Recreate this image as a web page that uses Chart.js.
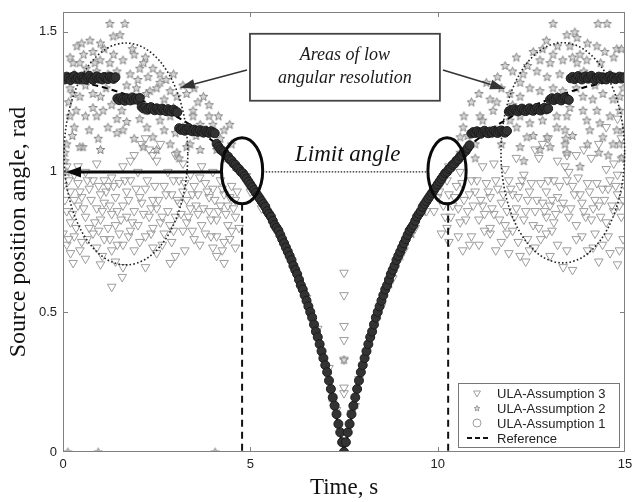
<!DOCTYPE html>
<html>
<head>
<meta charset="utf-8">
<script src="https://cdn.jsdelivr.net/npm/chart.js@4.4.1/dist/chart.umd.min.js"></script>
<style>
  html, body { margin: 0; padding: 0; background: #fff; }
  #wrap { width: 632px; height: 502px; }
</style>
</head>
<body>
<div id="wrap"><canvas id="angleChart" width="632" height="502"></canvas></div>
<script>
// axis ticks
const timeTicks = [0, 5, 10, 15];
const angleTicks = [0, 0.5, 1, 1.5];
const angleMax = 1.5708;

// true source angle (rad) vs time (s)
const refT = [0, 0.5, 1, 1.5, 2, 2.5, 3, 3.5, 4, 4.25, 4.5, 4.75, 5, 5.25, 5.5, 5.75, 6, 6.25, 6.5, 6.75, 7, 7.25, 7.5,
  7.75, 8, 8.25, 8.5, 8.75, 9, 9.25, 9.5, 9.75, 10, 10.25, 10.5, 10.75, 11, 11.5, 12, 12.5, 13, 13.5, 14, 14.5, 15];
const refA = [1.335, 1.32, 1.305, 1.285, 1.26, 1.235, 1.2, 1.16, 1.11, 1.08, 1.045, 1.005, 0.955, 0.905, 0.85, 0.785, 0.715, 0.63, 0.54, 0.43, 0.31, 0.15, 0,
  0.15, 0.31, 0.43, 0.54, 0.63, 0.715, 0.785, 0.85, 0.905, 0.955, 1.005, 1.045, 1.08, 1.11, 1.16, 1.2, 1.235, 1.26, 1.285, 1.305, 1.32, 1.335];

// assumption 1 estimate, one value every 0.05 s from 0 to 15 s
const sampleStep = 0.05;
const est1A = [
  // 0 .. 1.40
  1.335, 1.33, 1.34, 1.335, 1.328, 1.338, 1.342, 1.332, 1.336, 1.33, 1.34, 1.335, 1.33, 1.338, 1.343,
  1.334, 1.329, 1.337, 1.341, 1.333, 1.336, 1.33, 1.339, 1.335, 1.331, 1.34, 1.336, 1.332, 1.338,
  // 1.45 .. 2.05
  1.262, 1.256, 1.265, 1.259, 1.254, 1.263, 1.26, 1.255, 1.266, 1.258, 1.262, 1.257, 1.264,
  // 2.10 .. 3.05
  1.232, 1.226, 1.23, 1.222, 1.228, 1.231, 1.224, 1.22, 1.227, 1.223, 1.219, 1.226, 1.221, 1.217,
  1.224, 1.218, 1.215, 1.222, 1.216, 1.213,
  // 3.10 .. 4.05
  1.156, 1.15, 1.154, 1.147, 1.152, 1.157, 1.148, 1.145, 1.151, 1.146, 1.143, 1.149, 1.144, 1.14,
  1.147, 1.142, 1.139, 1.145, 1.141, 1.138,
  // 4.10 .. 7.50
  1.1, 1.09, 1.08, 1.075, 1.07, 1.06, 1.055, 1.045, 1.04, 1.03, 1.025, 1.015, 1.01, 1.0, 0.995,
  0.985, 0.975, 0.965, 0.955, 0.945, 0.935, 0.925, 0.915, 0.905, 0.895, 0.885, 0.875, 0.86, 0.85, 0.84,
  0.825, 0.81, 0.8, 0.79, 0.775, 0.76, 0.745, 0.73, 0.715, 0.7, 0.685, 0.665, 0.65, 0.635, 0.615,
  0.595, 0.58, 0.56, 0.54, 0.52, 0.5, 0.48, 0.455, 0.43, 0.41, 0.385, 0.36, 0.335, 0.31, 0.285,
  0.255, 0.225, 0.195, 0.165, 0.135, 0.1, 0.07, 0.035, 0,
  // 7.55 .. 10.85
  0.035, 0.07, 0.1, 0.135, 0.165, 0.195, 0.225, 0.255, 0.285, 0.31, 0.335, 0.36, 0.385, 0.41, 0.43,
  0.455, 0.48, 0.5, 0.52, 0.54, 0.56, 0.58, 0.595, 0.615, 0.635, 0.65, 0.665, 0.685, 0.7, 0.715,
  0.73, 0.745, 0.76, 0.775, 0.79, 0.8, 0.81, 0.825, 0.84, 0.85, 0.86, 0.875, 0.885, 0.895, 0.905,
  0.915, 0.925, 0.935, 0.945, 0.955, 0.965, 0.975, 0.985, 0.995, 1.0, 1.01, 1.015, 1.025, 1.03, 1.04,
  1.045, 1.055, 1.06, 1.07, 1.075, 1.085, 1.095,
  // 10.90 .. 11.85
  1.137, 1.142, 1.139, 1.145, 1.14, 1.136, 1.143, 1.147, 1.141, 1.138, 1.144, 1.14, 1.146, 1.142,
  1.139, 1.145, 1.148, 1.143, 1.14, 1.146,
  // 11.90 .. 12.95
  1.215, 1.221, 1.218, 1.224, 1.219, 1.216, 1.222, 1.226, 1.22, 1.217, 1.223, 1.227, 1.221, 1.218,
  1.224, 1.228, 1.222, 1.219, 1.225, 1.229, 1.223, 1.226,
  // 13.00 .. 13.50
  1.258, 1.263, 1.256, 1.261, 1.265, 1.259, 1.255, 1.262, 1.266, 1.26, 1.257,
  // 13.55 .. 15.00
  1.334, 1.339, 1.331, 1.336, 1.342, 1.335, 1.33, 1.338, 1.341, 1.333, 1.337, 1.343, 1.334, 1.329, 1.336,
  1.34, 1.332, 1.338, 1.335, 1.33, 1.339, 1.342, 1.334, 1.337, 1.331, 1.336, 1.34, 1.333, 1.338, 1.335
];

// assumption 2 estimates [time, angle]
const est2 = [
  [1.25, 1.53], [1.65, 1.53], [1.34, 1.485], [1.52, 1.49],
  [0.37, 1.45], [0.5, 1.46], [0.72, 1.47], [0.8, 1.43], [1.1, 1.44], [1.85, 1.44], [1.9, 1.42],
  [0.19, 1.41], [0.27, 1.39], [0.45, 1.39], [0.99, 1.4], [1.25, 1.39], [0.62, 1.37], [2.2, 1.41],
  [1.44, 1.36], [1.79, 1.35], [2.05, 1.37], [2.27, 1.34], [2.59, 1.35], [0.9, 1.36],
  [2.59, 1.32], [2.32, 1.29], [2.86, 1.29], [3.04, 1.27], [1.96, 1.3], [2.23, 1.28], [3.2, 1.31], [2.7, 1.26],
  [0.19, 1.3], [0.27, 1.28], [0.45, 1.27], [0.8, 1.28], [1.0, 1.27], [0.6, 1.31], [1.15, 1.3],
  [0.8, 1.23], [0.9, 1.2], [1.07, 1.22], [1.44, 1.19], [1.57, 1.22], [1.3, 1.24],
  [1.44, 1.14], [1.6, 1.15], [0.94, 1.12], [0.53, 1.09], [0.45, 1.09],
  [0.19, 1.2], [0.1, 1.1], [0.05, 1.07], [0.05, 1.04], [0.1, 1.0], [0.3, 1.16],
  [2.05, 1.19], [2.24, 1.16], [2.4, 1.125], [2.59, 1.185], [2.86, 1.2], [2.24, 1.22],
  [2.14, 1.09], [2.5, 1.08], [2.86, 1.1], [3.04, 1.07], [3.3, 1.09],
  [3.47, 1.2], [3.66, 1.17], [3.84, 1.15], [4.0, 1.17], [3.47, 1.22], [3.6, 1.25], [3.9, 1.2],
  [3.39, 1.1], [3.66, 1.08], [4.1, 1.08], [4.37, 1.05], [4.2, 1.12], [4.5, 1.1], [3.2, 1.16], [3.0, 1.14],
  [0.3, 1.35], [0.55, 1.42], [0.7, 1.33], [0.85, 1.39], [1.0, 1.46], [1.2, 1.35], [1.35, 1.42], [1.6, 1.4],
  [1.7, 1.31], [2.0, 1.33], [2.15, 1.39], [2.4, 1.37], [2.5, 1.3], [2.75, 1.33], [2.95, 1.35], [3.3, 1.28],
  [3.5, 1.3], [3.75, 1.27], [3.9, 1.24], [4.15, 1.2], [4.3, 1.15], [4.45, 1.17], [0.15, 1.25], [0.35, 1.22],
  [0.6, 1.2], [0.7, 1.15], [1.2, 1.16], [1.7, 1.18], [1.9, 1.12], [2.7, 1.15], [2.95, 1.23], [3.1, 1.05],
  [3.55, 1.13], [1.0, 1.08], [0.25, 1.13],
  [4.4, 1.06], [4.6, 1.02], [4.9, 0.99], [5.1, 0.94], [5.4, 0.88], [5.7, 0.8], [6.0, 0.72], [6.3, 0.61],
  [6.6, 0.5], [6.9, 0.36], [7.2, 0.18], [7.5, 0.33], [7.8, 0.17], [8.1, 0.36], [8.4, 0.49], [8.7, 0.6],
  [9.0, 0.7], [9.3, 0.78], [9.6, 0.86], [9.9, 0.93], [10.1, 0.98], [10.4, 1.03], [10.6, 1.07],
  [13.08, 1.53], [14.28, 1.53], [14.52, 1.53],
  [13.45, 1.49], [13.66, 1.5], [13.72, 1.48],
  [14.0, 1.46], [14.25, 1.45], [14.46, 1.43], [14.78, 1.44], [14.9, 1.44],
  [12.8, 1.44], [13.08, 1.42], [13.53, 1.45], [13.8, 1.42],
  [12.73, 1.4], [13.0, 1.39], [13.34, 1.4], [13.72, 1.39], [13.98, 1.4],
  [12.0, 1.36], [12.28, 1.35], [12.65, 1.36], [12.92, 1.34], [13.26, 1.35],
  [12.2, 1.32], [12.46, 1.3], [12.73, 1.29], [13.08, 1.3], [13.34, 1.29],
  [11.93, 1.28], [12.2, 1.27], [11.58, 1.25], [11.48, 1.22], [11.13, 1.2],
  [13.88, 1.27], [14.14, 1.26], [14.41, 1.28], [14.68, 1.26], [14.86, 1.27],
  [13.53, 1.23], [13.88, 1.22], [14.25, 1.22], [14.6, 1.2], [14.86, 1.22],
  [12.46, 1.175], [12.2, 1.2], [12.8, 1.185], [13.18, 1.2], [13.45, 1.2],
  [13.98, 1.185], [14.33, 1.175], [14.06, 1.15], [14.41, 1.125], [14.78, 1.15], [14.68, 1.1],
  [11.2, 1.185], [10.68, 1.16], [10.6, 1.125],
  [11.93, 1.185], [11.58, 1.15], [12.11, 1.16], [12.38, 1.125],
  [12.92, 1.125], [13.18, 1.16], [12.73, 1.08],
  [13.4, 1.15], [13.42, 1.12], [13.4, 1.1], [13.45, 1.07],
  [10.5, 1.04], [14.9, 1.05], [11.0, 1.1], [10.8, 1.13], [14.95, 1.3], [14.95, 1.15], [11.4, 1.26], [11.7, 1.3],
  [10.7, 1.2], [10.9, 1.25], [11.1, 1.28], [11.3, 1.32], [11.6, 1.34], [11.8, 1.38], [12.1, 1.41], [12.4, 1.38],
  [12.55, 1.43], [12.9, 1.47], [13.2, 1.45], [13.6, 1.41], [13.9, 1.36], [14.1, 1.33], [14.35, 1.39], [14.6, 1.35],
  [14.7, 1.41], [14.2, 1.31], [13.7, 1.3], [13.2, 1.27], [12.6, 1.23], [12.0, 1.24], [11.3, 1.14], [11.7, 1.1],
  [12.2, 1.09], [12.55, 1.13], [13.0, 1.09], [13.6, 1.13], [14.0, 1.1], [14.3, 1.07], [14.55, 1.06], [14.85, 1.1],
  [11.0, 1.05], [13.8, 1.02], [12.3, 1.04],
  [0.13, 0], [0.94, 0], [4.06, 0], [7.5, 0]
];

// assumption 3 estimates [time, angle]
const est3 = [
  [0.1, 1.02], [0.3, 0.99], [0.6, 1.0], [0.9, 1.03], [1.3, 0.98], [1.9, 1.06], [2.1, 1.1], [2.3, 1.08],
  [2.5, 1.04], [2.6, 1.1], [2.8, 1.0], [3.0, 1.06], [3.4, 0.99], [3.7, 1.02], [1.1, 0.97], [2.0, 1.0],
  [0.0, 0.95], [0.2, 0.93], [0.4, 0.96], [0.5, 0.91], [0.7, 0.94], [0.8, 0.97], [1.0, 0.92], [1.2, 0.95],
  [1.4, 0.91], [1.5, 0.96], [1.7, 0.93], [1.8, 0.97], [2.2, 0.94], [2.4, 0.9], [2.7, 0.95], [2.9, 0.92],
  [3.1, 0.97], [3.2, 0.93], [3.3, 0.9], [3.5, 0.95], [3.6, 0.92], [3.8, 0.96], [3.9, 0.91], [4.0, 0.94],
  [4.2, 0.97], [4.3, 0.92], [4.5, 0.95], [4.6, 0.9], [4.4, 0.88], [0.3, 0.9],
  [0.1, 0.86], [0.2, 0.82], [0.4, 0.88], [0.6, 0.84], [0.7, 0.8], [0.9, 0.87], [1.0, 0.83], [1.1, 0.89],
  [1.3, 0.85], [1.4, 0.81], [1.6, 0.88], [1.7, 0.84], [1.9, 0.86], [2.0, 0.81], [2.1, 0.89], [2.3, 0.84],
  [2.5, 0.87], [2.6, 0.82], [2.8, 0.86], [3.0, 0.84], [3.1, 0.89], [3.3, 0.82], [3.4, 0.87], [3.6, 0.85],
  [3.7, 0.81], [3.9, 0.86], [4.1, 0.83], [4.2, 0.88], [4.4, 0.81], [4.6, 0.84], [1.2, 0.8], [2.4, 0.8],
  [0.0, 0.78], [0.1, 0.74], [0.2, 0.71], [0.3, 0.77], [0.5, 0.75], [0.8, 0.78], [0.9, 0.73], [1.1, 0.76],
  [1.3, 0.72], [1.5, 0.78], [1.6, 0.74], [1.8, 0.79], [1.9, 0.72], [2.2, 0.77], [2.4, 0.73], [2.7, 0.78],
  [2.9, 0.75], [3.2, 0.79], [3.5, 0.76], [3.8, 0.78], [4.0, 0.73], [4.1, 0.77], [4.3, 0.75], [4.5, 0.79],
  [4.1, 0.7], [2.5, 0.71],
  [0.27, 0.675], [1.3, 0.59], [1.58, 0.625], [1.6, 0.66], [1.4, 0.68], [2.86, 0.675], [4.3, 0.675],
  [0.6, 0.69], [1.0, 0.67], [2.2, 0.66],
  [0.05, 0.9], [0.15, 0.97], [0.25, 0.85], [0.35, 0.8], [0.45, 0.93], [0.55, 0.87], [0.65, 0.97], [0.75, 0.9],
  [0.85, 0.82], [0.95, 0.95], [1.05, 0.86], [1.15, 0.93], [1.25, 0.88], [1.35, 0.95], [1.45, 0.86], [1.55, 0.83],
  [1.65, 0.97], [1.75, 0.9], [1.85, 0.82], [1.95, 0.94], [2.05, 0.91], [2.15, 0.85], [2.25, 0.97], [2.35, 0.87],
  [2.45, 0.95], [2.55, 0.9], [2.65, 0.84], [2.75, 0.92], [2.85, 0.81], [2.95, 0.97], [3.05, 0.9], [3.15, 0.85],
  [3.25, 0.96], [3.35, 0.84], [3.45, 0.92], [3.55, 0.88], [3.65, 0.98], [3.75, 0.87], [3.85, 0.93], [3.95, 0.83],
  [4.05, 0.9], [4.15, 0.86], [4.25, 0.94], [4.35, 0.85], [4.45, 0.91], [4.55, 0.87], [4.65, 0.93], [4.7, 0.8],
  [0.15, 0.76], [0.45, 0.72], [0.65, 0.76], [0.95, 0.79], [1.25, 0.76], [1.45, 0.74], [1.75, 0.77], [2.05, 0.75],
  [2.35, 0.78], [2.65, 0.74], [2.95, 0.79], [3.25, 0.72], [3.45, 0.79], [3.65, 0.74], [3.95, 0.77], [4.25, 0.72],
  [4.45, 0.76], [4.6, 0.73], [1.05, 0.7], [3.0, 0.7],
  [0.4, 1.02], [1.6, 1.02], [3.2, 1.03], [4.0, 1.0], [2.4, 1.06], [2.2, 1.12], [1.8, 1.04],
  [10.6, 1.0], [11.2, 1.02], [12.6, 1.08], [12.7, 1.05], [12.8, 1.1], [13.4, 1.02], [13.45, 1.06], [13.5, 1.0],
  [13.9, 1.08], [14.1, 1.05], [14.3, 1.1], [14.7, 1.03], [14.8, 0.99], [14.9, 1.12], [11.8, 1.01], [12.3, 0.99],
  [14.5, 1.16], [14.8, 1.19],
  [10.1, 0.96], [10.3, 0.92], [10.5, 0.95], [10.7, 0.9], [10.9, 0.97], [11.0, 0.93], [11.3, 0.96], [11.4, 0.91],
  [11.6, 0.94], [11.9, 0.97], [12.0, 0.92], [12.2, 0.95], [12.4, 0.9], [12.5, 0.96], [12.9, 0.93], [13.1, 0.97],
  [13.2, 0.91], [13.6, 0.95], [13.8, 0.92], [14.0, 0.96], [14.2, 0.9], [14.4, 0.94], [14.6, 0.97], [14.8, 0.92],
  [15.0, 0.95], [11.7, 0.89], [13.0, 0.88],
  [9.9, 0.86], [10.2, 0.84], [10.4, 0.88], [10.6, 0.82], [10.8, 0.86], [11.1, 0.83], [11.2, 0.88], [11.5, 0.85],
  [11.8, 0.81], [12.1, 0.87], [12.3, 0.83], [12.6, 0.86], [12.7, 0.8], [12.9, 0.84], [13.1, 0.82], [13.3, 0.87],
  [13.5, 0.84], [13.7, 0.81], [13.9, 0.86], [14.1, 0.83], [14.3, 0.88], [14.5, 0.82], [14.7, 0.86], [14.9, 0.84],
  [12.8, 0.89], [11.4, 0.8],
  [10.1, 0.78], [10.3, 0.75], [10.67, 0.72], [10.9, 0.77], [11.1, 0.74], [11.4, 0.78], [11.7, 0.75], [12.0, 0.79],
  [12.2, 0.7], [12.4, 0.76], [12.6, 0.73], [12.9, 0.78], [13.2, 0.74], [13.35, 0.66], [13.6, 0.65], [13.7, 0.76],
  [14.0, 0.72], [14.2, 0.78], [14.4, 0.74], [14.6, 0.71], [14.8, 0.67], [14.95, 0.76], [13.0, 0.7], [11.9, 0.71],
  [10.05, 0.93], [10.15, 0.88], [10.25, 0.97], [10.35, 0.84], [10.45, 0.91], [10.55, 0.87], [10.65, 0.96], [10.75, 0.83],
  [10.85, 0.92], [10.95, 0.88], [11.05, 0.97], [11.15, 0.9], [11.25, 0.85], [11.35, 0.93], [11.45, 0.87], [11.55, 0.97],
  [11.65, 0.83], [11.75, 0.92], [11.85, 0.86], [11.95, 0.94], [12.05, 0.84], [12.15, 0.91], [12.25, 0.97], [12.35, 0.86],
  [12.45, 0.93], [12.55, 0.81], [12.65, 0.9], [12.75, 0.96], [12.85, 0.86], [12.95, 0.97], [13.05, 0.9], [13.15, 0.85],
  [13.25, 0.95], [13.35, 0.89], [13.45, 0.97], [13.55, 0.87], [13.65, 0.92], [13.75, 0.98], [13.85, 0.89], [13.95, 0.84],
  [14.05, 0.93], [14.15, 0.87], [14.25, 0.96], [14.35, 0.84], [14.45, 0.9], [14.55, 0.94], [14.65, 0.88], [14.75, 0.95],
  [14.85, 0.88], [14.95, 0.9],
  [10.25, 0.8], [10.55, 0.77], [10.85, 0.74], [11.25, 0.79], [11.55, 0.72], [11.85, 0.78], [12.15, 0.75], [12.45, 0.72],
  [12.75, 0.76], [13.05, 0.79], [13.45, 0.72], [13.85, 0.77], [14.15, 0.73], [14.55, 0.77], [14.85, 0.72], [12.35, 0.68],
  [14.3, 0.68],
  [10.3, 1.02], [11.5, 1.03], [12.1, 1.05], [13.2, 1.04], [13.7, 1.06], [14.5, 1.01], [14.95, 1.05], [12.95, 1.12],
  [5.0, 0.93], [5.3, 0.87], [5.6, 0.82], [5.9, 0.74], [6.2, 0.64], [6.5, 0.55], [6.8, 0.44], [7.1, 0.3],
  [7.3, 0.15], [7.7, 0.14], [7.9, 0.26], [8.2, 0.4], [8.5, 0.52], [8.8, 0.62], [9.1, 0.72], [9.4, 0.8],
  [9.7, 0.86], [10.0, 0.91],
  [7.5, 0.64], [7.5, 0.56], [7.5, 0.45], [7.5, 0.4], [7.5, 0.33], [7.5, 0.23], [7.5, 0.21]
];

const seriesLabels = ['ULA-Assumption 3', 'ULA-Assumption 2', 'ULA-Assumption 1', 'Reference'];

// callout geometry, in axis units (time s, angle rad)
const notes = {
  limitAngle: 1,
  limitTimes: [4.78, 10.28],
  loRes: [{ t: 1.68, a: 1.064, rt: 1.65, ra: 0.396 }, { t: 13.34, a: 1.068, rt: 1.65, ra: 0.393 }],
  limitRings: [{ t: 4.78, a: 1.004, rt: 0.55, ra: 0.118 }, { t: 10.25, a: 1.004, rt: 0.51, ra: 0.118 }],
  box: { t0: 4.99, t1: 10.06, a0: 1.254, a1: 1.493 },
  boxArrows: [{ from: [4.91, 1.364], to: [3.12, 1.3] }, { from: [10.14, 1.364], to: [11.8, 1.296] }],
  limitLabel: { t: 7.6, a: 1.06 }
};

function makeStar(size, stroke, fill) {
  const c = document.createElement('canvas');
  c.width = c.height = size;
  const g = c.getContext('2d');
  const r = size / 2 - 1;
  g.beginPath();
  for (let i = 0; i < 10; i++) {
    const rr = i % 2 ? r * 0.45 : r;
    const ang = -Math.PI / 2 + i * Math.PI / 5;
    g.lineTo(size / 2 + rr * Math.cos(ang), size / 2 + 0.5 + rr * Math.sin(ang));
  }
  g.closePath();
  g.fillStyle = fill;
  g.fill();
  g.strokeStyle = stroke;
  g.lineWidth = 1;
  g.stroke();
  return c;
}

const starPoint = makeStar(11, '#858585', 'rgba(185,185,185,0.6)');
const starLegend = makeStar(8, '#999', 'rgba(200,200,200,0.6)');

function arrow(ctx, x0, y0, x1, y1, len, half, width, color) {
  const ang = Math.atan2(y1 - y0, x1 - x0);
  const bx = x1 - len * Math.cos(ang), by = y1 - len * Math.sin(ang);
  ctx.strokeStyle = color;
  ctx.fillStyle = color;
  ctx.lineWidth = width;
  ctx.setLineDash([]);
  ctx.beginPath();
  ctx.moveTo(x0, y0);
  ctx.lineTo(bx, by);
  ctx.stroke();
  ctx.beginPath();
  ctx.moveTo(x1, y1);
  ctx.lineTo(bx + half * Math.sin(ang), by - half * Math.cos(ang));
  ctx.lineTo(bx - half * Math.sin(ang), by + half * Math.cos(ang));
  ctx.closePath();
  ctx.fill();
}

const figureNotes = {
  id: 'figureNotes',
  afterDatasetsDraw(chart) {
    const { ctx, chartArea: area, scales: { x, y } } = chart;
    const px = t => x.getPixelForValue(t);
    const py = a => y.getPixelForValue(a);
    const ring = (e) => {
      ctx.beginPath();
      ctx.ellipse(px(e.t), py(e.a), px(e.t + e.rt) - px(e.t), py(e.a) - py(e.a + e.ra), 0, 0, Math.PI * 2);
      ctx.stroke();
    };
    ctx.save();

    // frame with inward ticks
    ctx.strokeStyle = '#808080';
    ctx.lineWidth = 1;
    ctx.strokeRect(area.left + 0.5, area.top + 0.5, area.width - 1, area.height - 1);
    ctx.beginPath();
    timeTicks.slice(1, -1).forEach(t => {
      const xx = Math.round(px(t)) + 0.5;
      ctx.moveTo(xx, area.bottom); ctx.lineTo(xx, area.bottom - 5);
      ctx.moveTo(xx, area.top); ctx.lineTo(xx, area.top + 5);
    });
    angleTicks.slice(1).forEach(a => {
      const yy = Math.round(py(a)) + 0.5;
      ctx.moveTo(area.left, yy); ctx.lineTo(area.left + 5, yy);
      ctx.moveTo(area.right, yy); ctx.lineTo(area.right - 5, yy);
    });
    ctx.stroke();

    // dotted rings round the low-resolution areas
    ctx.strokeStyle = '#222';
    ctx.lineWidth = 1.6;
    ctx.setLineDash([1.6, 2.2]);
    notes.loRes.forEach(ring);

    // limit angle guide lines
    ctx.lineWidth = 1.4;
    ctx.setLineDash([1.5, 1.5]);
    ctx.beginPath();
    ctx.moveTo(px(notes.limitRings[0].t + notes.limitRings[0].rt), py(notes.limitAngle));
    ctx.lineTo(px(notes.limitRings[1].t - notes.limitRings[1].rt), py(notes.limitAngle));
    ctx.stroke();

    ctx.strokeStyle = '#111';
    ctx.lineWidth = 2;
    ctx.setLineDash([7, 5]);
    notes.limitTimes.forEach((t, i) => {
      const r = notes.limitRings[i];
      ctx.beginPath();
      ctx.moveTo(px(t), py(r.a - r.ra));
      ctx.lineTo(px(t), area.bottom);
      ctx.stroke();
    });

    ctx.setLineDash([]);
    ctx.lineWidth = 3;
    ctx.strokeStyle = '#0a0a0a';
    notes.limitRings.forEach(ring);

    arrow(ctx, px(notes.limitRings[0].t - notes.limitRings[0].rt), py(notes.limitAngle),
      area.left + 3, py(notes.limitAngle), 15, 5.5, 3, '#0a0a0a');

    // label box and its pointers
    const b = notes.box;
    notes.boxArrows.forEach(p => arrow(ctx, px(p.from[0]), py(p.from[1]), px(p.to[0]), py(p.to[1]), 15, 5, 1.6, '#333'));
    const bx = px(b.t0), by = py(b.a1), bw = px(b.t1) - bx, bh = py(b.a0) - by;
    ctx.fillStyle = '#fff';
    ctx.fillRect(bx, by, bw, bh);
    ctx.strokeStyle = '#444';
    ctx.lineWidth = 1.8;
    ctx.strokeRect(bx, by, bw, bh);
    ctx.fillStyle = '#1a1a1a';
    ctx.textAlign = 'center';
    ctx.textBaseline = 'middle';
    ctx.font = 'italic 18px "Liberation Serif", "Times New Roman", serif';
    ctx.fillText('Areas of low', bx + bw / 2, by + 21);
    ctx.fillText('angular resolution', bx + bw / 2, by + 44);

    ctx.font = 'italic 23px "Liberation Serif", "Times New Roman", serif';
    ctx.fillStyle = '#111';
    ctx.fillText('Limit angle', px(notes.limitLabel.t), py(notes.limitLabel.a));

    // legend in the lower right corner
    const lx = area.right - 167, ly = area.bottom - 69, lw = 161, lh = 64;
    ctx.fillStyle = '#fff';
    ctx.fillRect(lx, ly, lw, lh);
    ctx.strokeStyle = '#777';
    ctx.lineWidth = 1;
    ctx.strokeRect(lx + 0.5, ly + 0.5, lw, lh);
    ctx.font = '13px "Liberation Sans", Arial, sans-serif';
    ctx.textAlign = 'left';
    chart.data.datasets.forEach((ds, i) => {
      const rowY = ly + 10 + i * 15;
      const mx = lx + 19;
      if (ds.showLine) {
        ctx.strokeStyle = '#111';
        ctx.lineWidth = 2;
        ctx.setLineDash([5, 3]);
        ctx.beginPath();
        ctx.moveTo(lx + 9, rowY); ctx.lineTo(lx + 31, rowY);
        ctx.stroke();
        ctx.setLineDash([]);
      } else if (ds.pointStyle === starPoint) {
        ctx.drawImage(starLegend, mx - 4, rowY - 4);
      } else {
        ctx.strokeStyle = '#a0a0a0';
        ctx.fillStyle = 'rgba(0,0,0,0)';
        ctx.lineWidth = 1;
        Chart.helpers.drawPoint(ctx, { pointStyle: ds.pointStyle, rotation: ds.pointRotation || 0, radius: 4, borderWidth: 1 }, mx, rowY);
      }
      ctx.fillStyle = '#222';
      ctx.fillText(ds.label, lx + 39, rowY + 1);
    });

    ctx.restore();
  }
};

const pts = arr => arr.map(p => ({ x: p[0], y: p[1] }));
const serif = '"Liberation Serif", "Times New Roman", serif';
const sans = '"Liberation Sans", Arial, sans-serif';

new Chart(document.getElementById('angleChart'), {
  type: 'scatter',
  data: {
    datasets: [
      {
        label: seriesLabels[0],
        data: pts(est3),
        pointStyle: 'triangle',
        pointRotation: 180,
        pointRadius: 5,
        borderWidth: 1,
        borderColor: '#9c9c9c',
        backgroundColor: 'rgba(0,0,0,0)',
        order: 4
      },
      {
        label: seriesLabels[1],
        data: pts(est2),
        pointStyle: starPoint,
        pointRadius: 5,
        order: 3
      },
      {
        label: seriesLabels[2],
        data: est1A.map((a, i) => ({ x: i * sampleStep, y: a })),
        pointStyle: 'circle',
        pointRadius: 4.5,
        borderWidth: 1,
        borderColor: '#1c1c1c',
        backgroundColor: '#333',
        order: 1
      },
      {
        label: seriesLabels[3],
        data: refT.map((t, i) => ({ x: t, y: refA[i] })),
        showLine: true,
        pointRadius: 0,
        borderColor: '#000',
        borderWidth: 2,
        borderDash: [6, 4],
        order: 2
      }
    ]
  },
  options: {
    responsive: false,
    animation: false,
    events: [],
    layout: { padding: { top: 12, right: 7, left: 0, bottom: 0 } },
    plugins: { legend: { display: false }, tooltip: { enabled: false } },
    scales: {
      x: {
        type: 'linear',
        min: 0,
        max: 15,
        grid: { display: false, drawTicks: false },
        border: { display: false },
        ticks: { color: '#222', padding: 5, maxRotation: 0, font: { family: sans, size: 13 }, callback: v => String(v) },
        afterBuildTicks: s => { s.ticks = timeTicks.map(v => ({ value: v })); },
        afterFit: s => { s.height = 50; s.paddingLeft = 0; s.paddingRight = 0; },
        title: {
          display: true,
          text: 'Time, s',
          color: '#111',
          font: { family: serif, size: 23 },
          padding: { top: 0, bottom: 0 }
        }
      },
      y: {
        type: 'linear',
        min: 0,
        max: angleMax,
        grid: { display: false, drawTicks: false },
        border: { display: false },
        ticks: { color: '#222', padding: 6, font: { family: sans, size: 13 }, callback: v => String(v) },
        afterBuildTicks: s => { s.ticks = angleTicks.map(v => ({ value: v })); },
        afterFit: s => { s.width = 63; s.paddingTop = 0; s.paddingBottom = 0; },
        title: {
          display: true,
          text: 'Source position angle, rad',
          color: '#111',
          font: { family: serif, size: 24 },
          padding: { top: 4, bottom: 0 }
        }
      }
    }
  },
  plugins: [figureNotes]
});
</script>
</body>
</html>
